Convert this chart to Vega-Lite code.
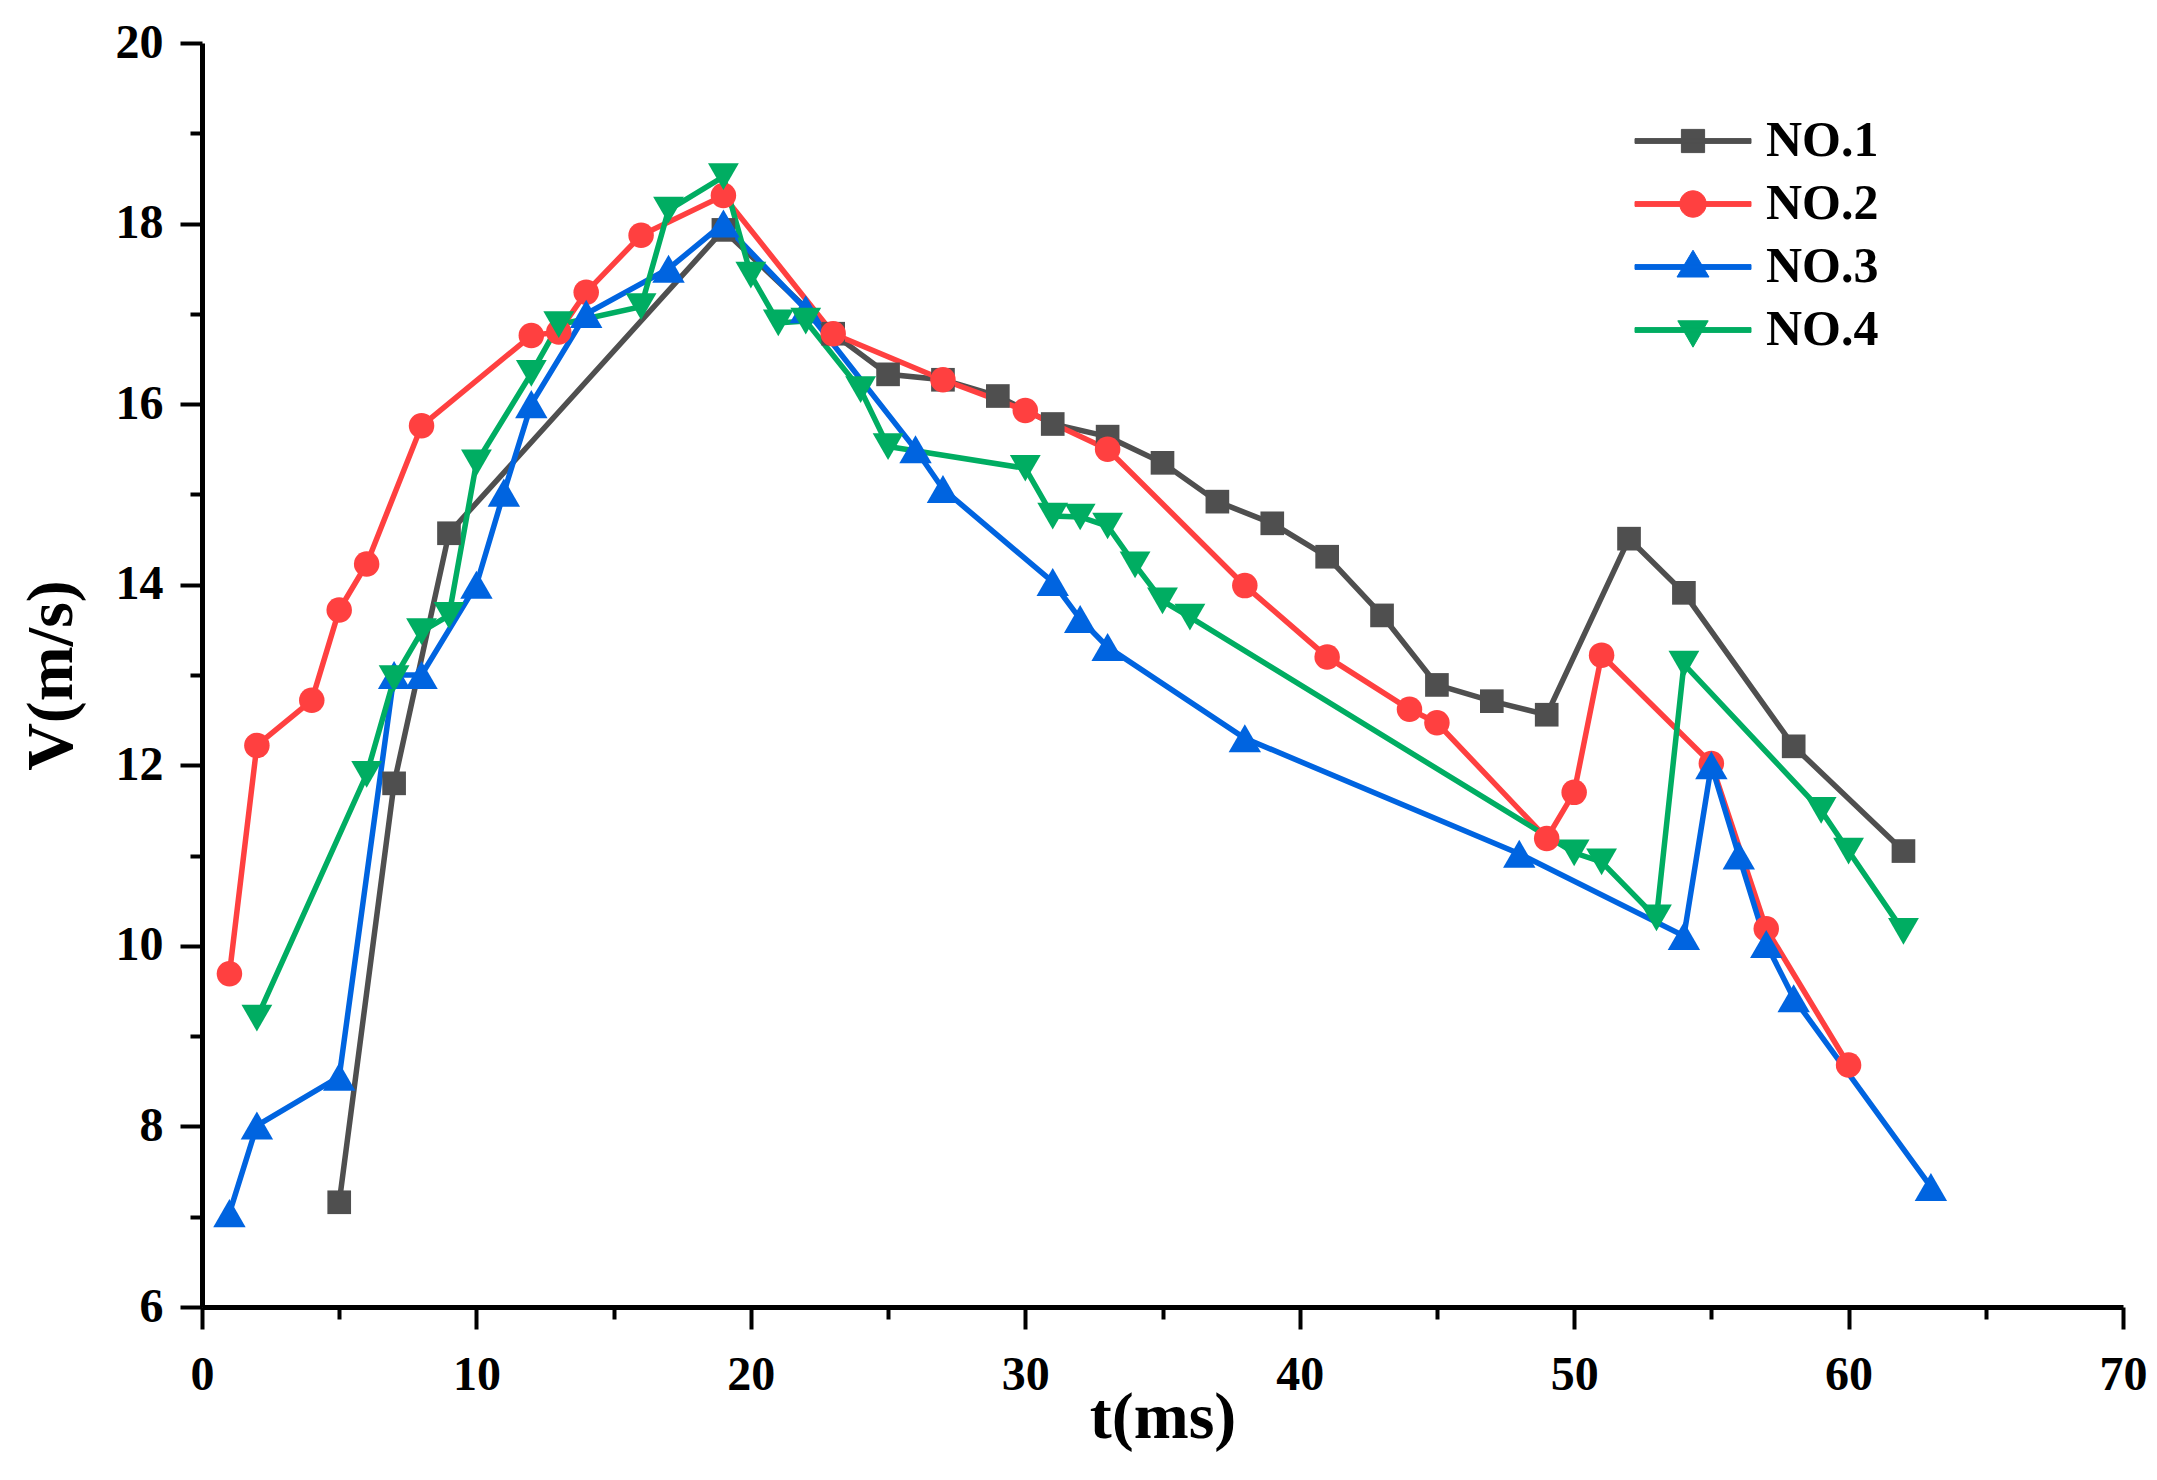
{
  "$schema": "https://vega.github.io/schema/vega-lite/v6.json",
  "autosize": "none",
  "width": 1921,
  "height": 1264,
  "padding": {"left": 202, "top": 43, "right": 34, "bottom": 173},
  "background": "white",
  "config": {
    "view": {"stroke": null},
    "axis": {
      "grid": false,
      "domainColor": "black",
      "domainWidth": 5,
      "tickColor": "black",
      "tickWidth": 4,
      "labelFont": "Liberation Serif",
      "labelFontWeight": "bold",
      "labelFontSize": 48,
      "labelColor": "black",
      "titleFont": "Liberation Serif",
      "titleFontWeight": "bold",
      "titleFontSize": 66,
      "titleColor": "black"
    },
    "legend": {
      "labelFont": "Liberation Serif",
      "labelFontWeight": "bold",
      "labelFontSize": 50,
      "labelColor": "black",
      "padding": 0,
      "rowPadding": 13
    }
  },
  "data": {
    "values": [
      {"series": "NO.1", "t": 5, "v": 7.16},
      {"series": "NO.1", "t": 7, "v": 11.8},
      {"series": "NO.1", "t": 9, "v": 14.57},
      {"series": "NO.1", "t": 19, "v": 17.93},
      {"series": "NO.1", "t": 23, "v": 16.78},
      {"series": "NO.1", "t": 25, "v": 16.33},
      {"series": "NO.1", "t": 27, "v": 16.27},
      {"series": "NO.1", "t": 29, "v": 16.09},
      {"series": "NO.1", "t": 31, "v": 15.78},
      {"series": "NO.1", "t": 33, "v": 15.64},
      {"series": "NO.1", "t": 35, "v": 15.35},
      {"series": "NO.1", "t": 37, "v": 14.92},
      {"series": "NO.1", "t": 39, "v": 14.68},
      {"series": "NO.1", "t": 41, "v": 14.31},
      {"series": "NO.1", "t": 43, "v": 13.66},
      {"series": "NO.1", "t": 45, "v": 12.89},
      {"series": "NO.1", "t": 47, "v": 12.71},
      {"series": "NO.1", "t": 49, "v": 12.56},
      {"series": "NO.1", "t": 52, "v": 14.51},
      {"series": "NO.1", "t": 54, "v": 13.91},
      {"series": "NO.1", "t": 58, "v": 12.21},
      {"series": "NO.1", "t": 62, "v": 11.05},
      {"series": "NO.2", "t": 1, "v": 9.69},
      {"series": "NO.2", "t": 2, "v": 12.22},
      {"series": "NO.2", "t": 4, "v": 12.72},
      {"series": "NO.2", "t": 5, "v": 13.72},
      {"series": "NO.2", "t": 6, "v": 14.23},
      {"series": "NO.2", "t": 8, "v": 15.76},
      {"series": "NO.2", "t": 12, "v": 16.76},
      {"series": "NO.2", "t": 13, "v": 16.8},
      {"series": "NO.2", "t": 14, "v": 17.24},
      {"series": "NO.2", "t": 16, "v": 17.87},
      {"series": "NO.2", "t": 19, "v": 18.31},
      {"series": "NO.2", "t": 23, "v": 16.78},
      {"series": "NO.2", "t": 27, "v": 16.27},
      {"series": "NO.2", "t": 30, "v": 15.93},
      {"series": "NO.2", "t": 33, "v": 15.5},
      {"series": "NO.2", "t": 38, "v": 13.99},
      {"series": "NO.2", "t": 41, "v": 13.2},
      {"series": "NO.2", "t": 44, "v": 12.62},
      {"series": "NO.2", "t": 45, "v": 12.47},
      {"series": "NO.2", "t": 49, "v": 11.19},
      {"series": "NO.2", "t": 50, "v": 11.7},
      {"series": "NO.2", "t": 51, "v": 13.22},
      {"series": "NO.2", "t": 55, "v": 12.02},
      {"series": "NO.2", "t": 57, "v": 10.19},
      {"series": "NO.2", "t": 60, "v": 8.68},
      {"series": "NO.3", "t": 1, "v": 7.04},
      {"series": "NO.3", "t": 2, "v": 8.01},
      {"series": "NO.3", "t": 5, "v": 8.55},
      {"series": "NO.3", "t": 7, "v": 13.0},
      {"series": "NO.3", "t": 8, "v": 13.0},
      {"series": "NO.3", "t": 10, "v": 14.0},
      {"series": "NO.3", "t": 11, "v": 15.02},
      {"series": "NO.3", "t": 12, "v": 16.0},
      {"series": "NO.3", "t": 14, "v": 17.0},
      {"series": "NO.3", "t": 17, "v": 17.5},
      {"series": "NO.3", "t": 19, "v": 18.0},
      {"series": "NO.3", "t": 22, "v": 17.05},
      {"series": "NO.3", "t": 26, "v": 15.5},
      {"series": "NO.3", "t": 27, "v": 15.06},
      {"series": "NO.3", "t": 31, "v": 14.03},
      {"series": "NO.3", "t": 32, "v": 13.62},
      {"series": "NO.3", "t": 33, "v": 13.31},
      {"series": "NO.3", "t": 38, "v": 12.3},
      {"series": "NO.3", "t": 48, "v": 11.02},
      {"series": "NO.3", "t": 54, "v": 10.11},
      {"series": "NO.3", "t": 55, "v": 12.0},
      {"series": "NO.3", "t": 56, "v": 11.0},
      {"series": "NO.3", "t": 57, "v": 10.02},
      {"series": "NO.3", "t": 58, "v": 9.42},
      {"series": "NO.3", "t": 63, "v": 7.33},
      {"series": "NO.4", "t": 2, "v": 9.2},
      {"series": "NO.4", "t": 6, "v": 11.9},
      {"series": "NO.4", "t": 7, "v": 12.96},
      {"series": "NO.4", "t": 8, "v": 13.48},
      {"series": "NO.4", "t": 9, "v": 13.66},
      {"series": "NO.4", "t": 10, "v": 15.35},
      {"series": "NO.4", "t": 12, "v": 16.34},
      {"series": "NO.4", "t": 13, "v": 16.88},
      {"series": "NO.4", "t": 16, "v": 17.08},
      {"series": "NO.4", "t": 17, "v": 18.15},
      {"series": "NO.4", "t": 19, "v": 18.52},
      {"series": "NO.4", "t": 20, "v": 17.43},
      {"series": "NO.4", "t": 21, "v": 16.9},
      {"series": "NO.4", "t": 22, "v": 16.92},
      {"series": "NO.4", "t": 24, "v": 16.16},
      {"series": "NO.4", "t": 25, "v": 15.53},
      {"series": "NO.4", "t": 30, "v": 15.29},
      {"series": "NO.4", "t": 31, "v": 14.76},
      {"series": "NO.4", "t": 32, "v": 14.75},
      {"series": "NO.4", "t": 33, "v": 14.65},
      {"series": "NO.4", "t": 34, "v": 14.22},
      {"series": "NO.4", "t": 35, "v": 13.82},
      {"series": "NO.4", "t": 36, "v": 13.64},
      {"series": "NO.4", "t": 50, "v": 11.03},
      {"series": "NO.4", "t": 51, "v": 10.93},
      {"series": "NO.4", "t": 53, "v": 10.31},
      {"series": "NO.4", "t": 54, "v": 13.12},
      {"series": "NO.4", "t": 59, "v": 11.5},
      {"series": "NO.4", "t": 60, "v": 11.05},
      {"series": "NO.4", "t": 62, "v": 10.16}
    ]
  },
  "encoding": {
    "x": {
      "field": "t",
      "type": "quantitative",
      "title": "t(ms)",
      "scale": {"domain": [0, 70], "nice": false, "zero": false},
      "axis": {
        "values": [0, 5, 10, 15, 20, 25, 30, 35, 40, 45, 50, 55, 60, 65, 70],
        "labelExpr": "datum.value % 10 === 0 ? datum.label : ''",
        "tickSize": {"condition": {"test": "datum.value % 10 === 0", "value": 22}, "value": 12},
        "labelPadding": 22,
        "titlePadding": -14,
        "labelFlush": false
      }
    },
    "y": {
      "field": "v",
      "type": "quantitative",
      "title": "V(m/s)",
      "scale": {"domain": [6, 20], "nice": false, "zero": false},
      "axis": {
        "values": [6, 7, 8, 9, 10, 11, 12, 13, 14, 15, 16, 17, 18, 19, 20],
        "labelExpr": "datum.value % 2 === 0 ? datum.label : ''",
        "tickSize": {"condition": {"test": "datum.value % 2 === 0", "value": 22}, "value": 12},
        "labelPadding": 17,
        "titlePadding": 30,
        "labelFlush": false
      }
    },
    "color": {
      "field": "series",
      "type": "nominal",
      "scale": {
        "domain": ["NO.1", "NO.2", "NO.3", "NO.4"],
        "range": ["#4f4f4f", "#ff4040", "#0064e0", "#00ad62"]
      },
      "legend": {
        "title": null,
        "orient": "none",
        "legendX": 1466,
        "legendY": 73,
        "symbolSize": 1600,
        "symbolStrokeWidth": 1,
        "symbolOpacity": 1,
        "labelOffset": 48,
        "symbolType": {"expr": "datum.value === 'NO.1' ? 'M-2.9,-0.12H2.9V0.12H-2.9Z M-0.58,-0.58H0.58V0.58H-0.58Z' : datum.value === 'NO.2' ? 'M-2.9,-0.12H2.9V0.12H-2.9Z M0.66,0A0.66,0.66 0 1,1 -0.66,0A0.66,0.66 0 1,1 0.66,0Z' : datum.value === 'NO.3' ? 'M-2.9,-0.12H2.9V0.12H-2.9Z M0,-0.84L0.8,0.5L-0.8,0.5Z' : 'M-2.9,-0.12H2.9V0.12H-2.9Z M0,0.86L-0.76,-0.46L0.76,-0.46Z'"}
      }
    }
  },
  "layer": [
    {
      "mark": {"type": "line", "strokeWidth": 5.5},
      "encoding": {
        "order": {"field": "t", "type": "quantitative"}
      }
    },
    {
      "transform": [{"filter": "datum.series === 'NO.1'"}],
      "mark": {"type": "point", "filled": true, "opacity": 1, "shape": "square", "size": 560},
      "encoding": {}
    },
    {
      "transform": [{"filter": "datum.series === 'NO.2'"}],
      "mark": {"type": "point", "filled": true, "opacity": 1, "shape": "circle", "size": 650},
      "encoding": {}
    },
    {
      "transform": [{"filter": "datum.series === 'NO.3'"}],
      "mark": {"type": "point", "filled": true, "opacity": 1, "shape": "triangle-up", "size": 1050},
      "encoding": {}
    },
    {
      "transform": [{"filter": "datum.series === 'NO.4'"}],
      "mark": {"type": "point", "filled": true, "opacity": 1, "shape": "triangle-down", "size": 950},
      "encoding": {}
    }
  ]
}
